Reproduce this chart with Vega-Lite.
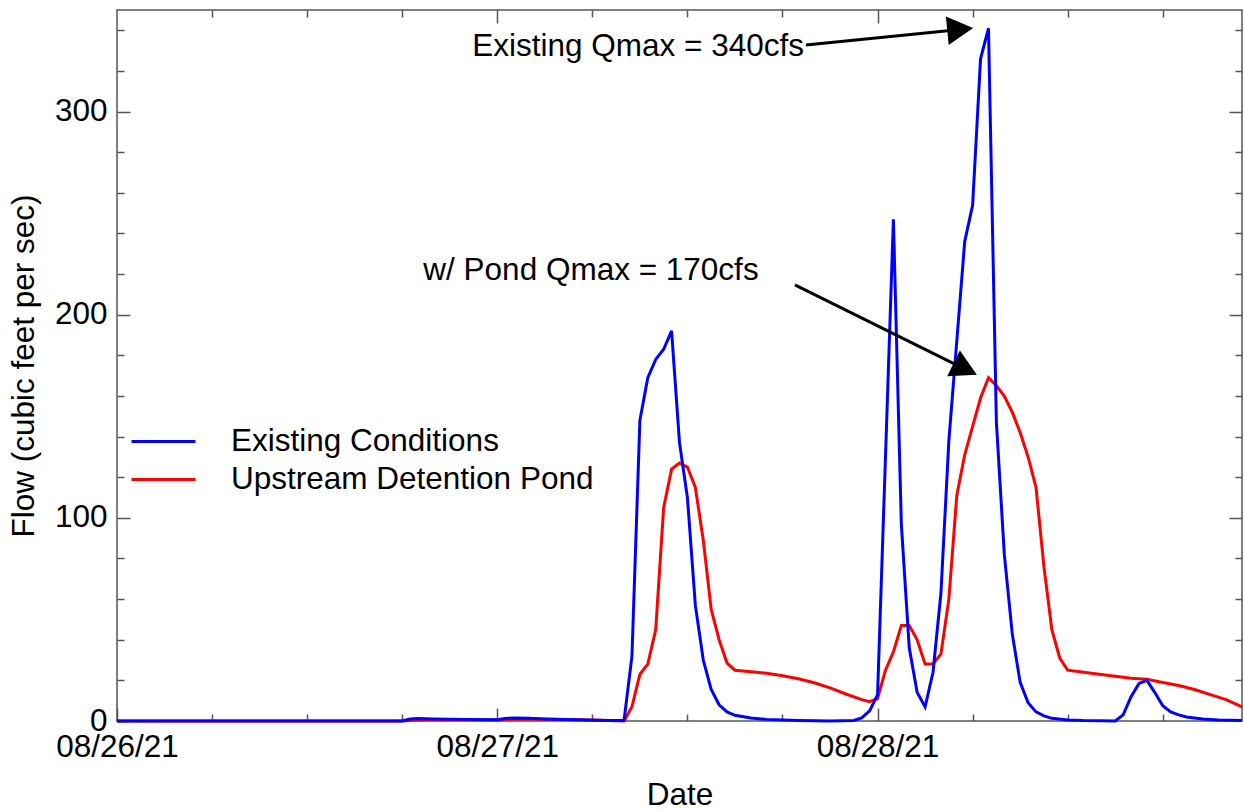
{
  "$schema": "https://vega.github.io/schema/vega-lite/v6.json",
  "width": 1125,
  "height": 711,
  "autosize": {"type": "none"},
  "padding": {"left": 117, "top": 10, "right": 2, "bottom": 90},
  "background": "#ffffff",
  "config": {
    "font": "Liberation Sans",
    "view": {"stroke": "#555555", "strokeWidth": 1.5},
    "axis": {
      "domain": false, "grid": false, "labelFlush": false,
      "tickColor": "#555555", "tickWidth": 1.5,
      "labelFont": "Liberation Sans", "labelFontSize": 31.5, "labelColor": "#000000",
      "titleFont": "Liberation Sans", "titleFontSize": 31.5, "titleFontWeight": "normal", "titleColor": "#000000"
    }
  },
  "datasets": {
    "flow": [
      {"t": "2021-08-26T00:00", "series": "Upstream Detention Pond", "v": 0},
      {"t": "2021-08-26T18:00", "series": "Upstream Detention Pond", "v": 0},
      {"t": "2021-08-26T19:00", "series": "Upstream Detention Pond", "v": 0.5},
      {"t": "2021-08-26T20:00", "series": "Upstream Detention Pond", "v": 0.7},
      {"t": "2021-08-27T00:00", "series": "Upstream Detention Pond", "v": 0.5},
      {"t": "2021-08-27T01:00", "series": "Upstream Detention Pond", "v": 0.8},
      {"t": "2021-08-27T02:00", "series": "Upstream Detention Pond", "v": 1.0},
      {"t": "2021-08-27T03:00", "series": "Upstream Detention Pond", "v": 0.9},
      {"t": "2021-08-27T05:00", "series": "Upstream Detention Pond", "v": 0.6},
      {"t": "2021-08-27T07:00", "series": "Upstream Detention Pond", "v": 0.3},
      {"t": "2021-08-27T08:00", "series": "Upstream Detention Pond", "v": 0},
      {"t": "2021-08-27T08:30", "series": "Upstream Detention Pond", "v": 7},
      {"t": "2021-08-27T09:00", "series": "Upstream Detention Pond", "v": 23},
      {"t": "2021-08-27T09:30", "series": "Upstream Detention Pond", "v": 28},
      {"t": "2021-08-27T10:00", "series": "Upstream Detention Pond", "v": 45},
      {"t": "2021-08-27T10:30", "series": "Upstream Detention Pond", "v": 105},
      {"t": "2021-08-27T11:00", "series": "Upstream Detention Pond", "v": 124},
      {"t": "2021-08-27T11:30", "series": "Upstream Detention Pond", "v": 127},
      {"t": "2021-08-27T12:00", "series": "Upstream Detention Pond", "v": 125},
      {"t": "2021-08-27T12:30", "series": "Upstream Detention Pond", "v": 115},
      {"t": "2021-08-27T13:00", "series": "Upstream Detention Pond", "v": 89},
      {"t": "2021-08-27T13:30", "series": "Upstream Detention Pond", "v": 55},
      {"t": "2021-08-27T14:00", "series": "Upstream Detention Pond", "v": 40},
      {"t": "2021-08-27T14:30", "series": "Upstream Detention Pond", "v": 28.5},
      {"t": "2021-08-27T15:00", "series": "Upstream Detention Pond", "v": 25},
      {"t": "2021-08-27T16:00", "series": "Upstream Detention Pond", "v": 24.3},
      {"t": "2021-08-27T17:00", "series": "Upstream Detention Pond", "v": 23.5},
      {"t": "2021-08-27T18:00", "series": "Upstream Detention Pond", "v": 22.3},
      {"t": "2021-08-27T19:00", "series": "Upstream Detention Pond", "v": 20.8},
      {"t": "2021-08-27T20:00", "series": "Upstream Detention Pond", "v": 18.8},
      {"t": "2021-08-27T21:00", "series": "Upstream Detention Pond", "v": 16.3},
      {"t": "2021-08-27T22:00", "series": "Upstream Detention Pond", "v": 13.3},
      {"t": "2021-08-27T23:00", "series": "Upstream Detention Pond", "v": 10.5},
      {"t": "2021-08-27T23:30", "series": "Upstream Detention Pond", "v": 9.5},
      {"t": "2021-08-28T00:00", "series": "Upstream Detention Pond", "v": 11},
      {"t": "2021-08-28T00:30", "series": "Upstream Detention Pond", "v": 25},
      {"t": "2021-08-28T01:00", "series": "Upstream Detention Pond", "v": 34},
      {"t": "2021-08-28T01:30", "series": "Upstream Detention Pond", "v": 47},
      {"t": "2021-08-28T02:00", "series": "Upstream Detention Pond", "v": 47},
      {"t": "2021-08-28T02:30", "series": "Upstream Detention Pond", "v": 40},
      {"t": "2021-08-28T03:00", "series": "Upstream Detention Pond", "v": 28},
      {"t": "2021-08-28T03:30", "series": "Upstream Detention Pond", "v": 28},
      {"t": "2021-08-28T04:00", "series": "Upstream Detention Pond", "v": 33},
      {"t": "2021-08-28T04:30", "series": "Upstream Detention Pond", "v": 60},
      {"t": "2021-08-28T05:00", "series": "Upstream Detention Pond", "v": 111},
      {"t": "2021-08-28T05:30", "series": "Upstream Detention Pond", "v": 131},
      {"t": "2021-08-28T06:00", "series": "Upstream Detention Pond", "v": 145},
      {"t": "2021-08-28T06:30", "series": "Upstream Detention Pond", "v": 159},
      {"t": "2021-08-28T07:00", "series": "Upstream Detention Pond", "v": 169},
      {"t": "2021-08-28T07:30", "series": "Upstream Detention Pond", "v": 165},
      {"t": "2021-08-28T08:00", "series": "Upstream Detention Pond", "v": 160},
      {"t": "2021-08-28T08:30", "series": "Upstream Detention Pond", "v": 152},
      {"t": "2021-08-28T09:00", "series": "Upstream Detention Pond", "v": 142},
      {"t": "2021-08-28T09:30", "series": "Upstream Detention Pond", "v": 130},
      {"t": "2021-08-28T10:00", "series": "Upstream Detention Pond", "v": 115},
      {"t": "2021-08-28T10:30", "series": "Upstream Detention Pond", "v": 76},
      {"t": "2021-08-28T11:00", "series": "Upstream Detention Pond", "v": 45},
      {"t": "2021-08-28T11:30", "series": "Upstream Detention Pond", "v": 31},
      {"t": "2021-08-28T12:00", "series": "Upstream Detention Pond", "v": 25},
      {"t": "2021-08-28T13:00", "series": "Upstream Detention Pond", "v": 24},
      {"t": "2021-08-28T14:00", "series": "Upstream Detention Pond", "v": 23},
      {"t": "2021-08-28T15:00", "series": "Upstream Detention Pond", "v": 22},
      {"t": "2021-08-28T16:00", "series": "Upstream Detention Pond", "v": 21},
      {"t": "2021-08-28T17:00", "series": "Upstream Detention Pond", "v": 20.5},
      {"t": "2021-08-28T18:00", "series": "Upstream Detention Pond", "v": 19},
      {"t": "2021-08-28T19:00", "series": "Upstream Detention Pond", "v": 17.5},
      {"t": "2021-08-28T20:00", "series": "Upstream Detention Pond", "v": 15.5},
      {"t": "2021-08-28T21:00", "series": "Upstream Detention Pond", "v": 13},
      {"t": "2021-08-28T22:00", "series": "Upstream Detention Pond", "v": 10.5},
      {"t": "2021-08-28T23:00", "series": "Upstream Detention Pond", "v": 7},
      {"t": "2021-08-26T00:00", "series": "Existing Conditions", "v": 0},
      {"t": "2021-08-26T18:00", "series": "Existing Conditions", "v": 0},
      {"t": "2021-08-26T18:30", "series": "Existing Conditions", "v": 1.0},
      {"t": "2021-08-26T19:00", "series": "Existing Conditions", "v": 1.2},
      {"t": "2021-08-26T20:00", "series": "Existing Conditions", "v": 1.0},
      {"t": "2021-08-26T22:00", "series": "Existing Conditions", "v": 0.8},
      {"t": "2021-08-27T00:00", "series": "Existing Conditions", "v": 0.6},
      {"t": "2021-08-27T00:30", "series": "Existing Conditions", "v": 1.2},
      {"t": "2021-08-27T01:00", "series": "Existing Conditions", "v": 1.5},
      {"t": "2021-08-27T02:00", "series": "Existing Conditions", "v": 1.3},
      {"t": "2021-08-27T03:00", "series": "Existing Conditions", "v": 1.0},
      {"t": "2021-08-27T05:00", "series": "Existing Conditions", "v": 0.6},
      {"t": "2021-08-27T07:00", "series": "Existing Conditions", "v": 0.3},
      {"t": "2021-08-27T08:00", "series": "Existing Conditions", "v": 0.3},
      {"t": "2021-08-27T08:30", "series": "Existing Conditions", "v": 32},
      {"t": "2021-08-27T09:00", "series": "Existing Conditions", "v": 148},
      {"t": "2021-08-27T09:30", "series": "Existing Conditions", "v": 169},
      {"t": "2021-08-27T10:00", "series": "Existing Conditions", "v": 178},
      {"t": "2021-08-27T10:30", "series": "Existing Conditions", "v": 183},
      {"t": "2021-08-27T11:00", "series": "Existing Conditions", "v": 192},
      {"t": "2021-08-27T11:30", "series": "Existing Conditions", "v": 137},
      {"t": "2021-08-27T12:00", "series": "Existing Conditions", "v": 110},
      {"t": "2021-08-27T12:30", "series": "Existing Conditions", "v": 57},
      {"t": "2021-08-27T13:00", "series": "Existing Conditions", "v": 30},
      {"t": "2021-08-27T13:30", "series": "Existing Conditions", "v": 15.5},
      {"t": "2021-08-27T14:00", "series": "Existing Conditions", "v": 8},
      {"t": "2021-08-27T14:30", "series": "Existing Conditions", "v": 4.5},
      {"t": "2021-08-27T15:00", "series": "Existing Conditions", "v": 2.8},
      {"t": "2021-08-27T16:00", "series": "Existing Conditions", "v": 1.5},
      {"t": "2021-08-27T17:00", "series": "Existing Conditions", "v": 0.8},
      {"t": "2021-08-27T19:00", "series": "Existing Conditions", "v": 0.3},
      {"t": "2021-08-27T21:00", "series": "Existing Conditions", "v": 0},
      {"t": "2021-08-27T22:30", "series": "Existing Conditions", "v": 0.3},
      {"t": "2021-08-27T23:00", "series": "Existing Conditions", "v": 1.5},
      {"t": "2021-08-27T23:30", "series": "Existing Conditions", "v": 5},
      {"t": "2021-08-28T00:00", "series": "Existing Conditions", "v": 13},
      {"t": "2021-08-28T01:00", "series": "Existing Conditions", "v": 247},
      {"t": "2021-08-28T01:30", "series": "Existing Conditions", "v": 97},
      {"t": "2021-08-28T02:00", "series": "Existing Conditions", "v": 36},
      {"t": "2021-08-28T02:30", "series": "Existing Conditions", "v": 14},
      {"t": "2021-08-28T03:00", "series": "Existing Conditions", "v": 7},
      {"t": "2021-08-28T03:30", "series": "Existing Conditions", "v": 24},
      {"t": "2021-08-28T04:00", "series": "Existing Conditions", "v": 63},
      {"t": "2021-08-28T04:30", "series": "Existing Conditions", "v": 138},
      {"t": "2021-08-28T05:00", "series": "Existing Conditions", "v": 187},
      {"t": "2021-08-28T05:30", "series": "Existing Conditions", "v": 236},
      {"t": "2021-08-28T06:00", "series": "Existing Conditions", "v": 254},
      {"t": "2021-08-28T06:30", "series": "Existing Conditions", "v": 326},
      {"t": "2021-08-28T07:00", "series": "Existing Conditions", "v": 341},
      {"t": "2021-08-28T07:30", "series": "Existing Conditions", "v": 147},
      {"t": "2021-08-28T08:00", "series": "Existing Conditions", "v": 82},
      {"t": "2021-08-28T08:30", "series": "Existing Conditions", "v": 43},
      {"t": "2021-08-28T09:00", "series": "Existing Conditions", "v": 19},
      {"t": "2021-08-28T09:30", "series": "Existing Conditions", "v": 9},
      {"t": "2021-08-28T10:00", "series": "Existing Conditions", "v": 4.5},
      {"t": "2021-08-28T10:30", "series": "Existing Conditions", "v": 2.5},
      {"t": "2021-08-28T11:00", "series": "Existing Conditions", "v": 1.3},
      {"t": "2021-08-28T12:00", "series": "Existing Conditions", "v": 0.5},
      {"t": "2021-08-28T13:00", "series": "Existing Conditions", "v": 0.2},
      {"t": "2021-08-28T15:00", "series": "Existing Conditions", "v": 0},
      {"t": "2021-08-28T15:30", "series": "Existing Conditions", "v": 3},
      {"t": "2021-08-28T16:00", "series": "Existing Conditions", "v": 12},
      {"t": "2021-08-28T16:30", "series": "Existing Conditions", "v": 18.5},
      {"t": "2021-08-28T17:00", "series": "Existing Conditions", "v": 20},
      {"t": "2021-08-28T17:30", "series": "Existing Conditions", "v": 14},
      {"t": "2021-08-28T18:00", "series": "Existing Conditions", "v": 7.5},
      {"t": "2021-08-28T18:30", "series": "Existing Conditions", "v": 4.5},
      {"t": "2021-08-28T19:00", "series": "Existing Conditions", "v": 3},
      {"t": "2021-08-28T19:30", "series": "Existing Conditions", "v": 2},
      {"t": "2021-08-28T20:30", "series": "Existing Conditions", "v": 1},
      {"t": "2021-08-28T21:30", "series": "Existing Conditions", "v": 0.5},
      {"t": "2021-08-28T23:00", "series": "Existing Conditions", "v": 0.2}
    ],
    "arrows": [
      {"label": "existing", "t1": "2021-08-27T19:29", "v1": 332.8, "t2": "2021-08-28T05:32", "v2": 340.7, "tt": "2021-08-28T06:02", "vt": 341.1},
      {"label": "pond", "t1": "2021-08-27T18:47", "v1": 214.7, "t2": "2021-08-28T05:48", "v2": 172.1, "tt": "2021-08-28T06:16", "vt": 170.4}
    ],
    "notes": [
      {"t": "2021-08-26T22:25", "v": 332, "text": "Existing Qmax = 340cfs"},
      {"t": "2021-08-26T19:20", "v": 221.7, "text": "w/ Pond Qmax = 170cfs"}
    ]
  },
  "layer": [
    {
      "data": {"name": "flow"},
      "mark": {"type": "line", "strokeWidth": 3},
      "encoding": {
        "x": {
          "field": "t", "type": "temporal",
          "scale": {"domain": [{"year": 2021, "month": 8, "date": 26, "hours": 0}, {"year": 2021, "month": 8, "date": 28, "hours": 23}], "nice": false},
          "axis": {
            "orient": "bottom",
            "values": [{"year": 2021, "month": 8, "date": 26}, {"year": 2021, "month": 8, "date": 27}, {"year": 2021, "month": 8, "date": 28}],
            "format": "%m/%d/%y", "tickSize": -13, "labelPadding": 23,
            "title": "Date", "titlePadding": 17
          }
        },
        "y": {
          "field": "v", "type": "quantitative",
          "scale": {"domain": [0, 350], "nice": false},
          "axis": {
            "orient": "left", "values": [0, 100, 200, 300], "tickSize": -13, "labelPadding": 23,
            "title": "Flow (cubic feet per sec)", "titlePadding": 14
          }
        },
        "color": {
          "field": "series", "type": "nominal",
          "scale": {"domain": ["Existing Conditions", "Upstream Detention Pond"], "range": ["#0000ff", "#ff0000"]},
          "legend": {
            "orient": "none", "legendX": 29, "legendY": 414, "title": null,
            "symbolType": "M-2,0L2,0", "symbolSize": 1024, "symbolStrokeWidth": 3,
            "labelFont": "Liberation Sans", "labelFontSize": 31.5, "labelColor": "#000000", "labelLimit": 0,
            "labelOffset": 50, "rowPadding": 5
          }
        }
      }
    },
    {
      "data": {"name": "flow"},
      "mark": {"type": "line", "opacity": 0},
      "encoding": {
        "x": {
          "field": "t", "type": "temporal",
          "axis": {
            "orient": "bottom", "labels": false, "title": null, "tickSize": -7,
            "values": [
              {"year": 2021, "month": 8, "date": 26, "hours": 6}, {"year": 2021, "month": 8, "date": 26, "hours": 12}, {"year": 2021, "month": 8, "date": 26, "hours": 18},
              {"year": 2021, "month": 8, "date": 27, "hours": 6}, {"year": 2021, "month": 8, "date": 27, "hours": 12}, {"year": 2021, "month": 8, "date": 27, "hours": 18},
              {"year": 2021, "month": 8, "date": 28, "hours": 6}, {"year": 2021, "month": 8, "date": 28, "hours": 12}, {"year": 2021, "month": 8, "date": 28, "hours": 18}
            ]
          }
        },
        "y": {
          "field": "v", "type": "quantitative",
          "axis": {"orient": "left", "labels": false, "title": null, "tickSize": -7,
            "values": [20, 40, 60, 80, 120, 140, 160, 180, 220, 240, 260, 280, 320, 340]}
        }
      }
    },
    {
      "data": {"name": "flow"},
      "mark": {"type": "line", "opacity": 0},
      "encoding": {
        "x": {
          "field": "t", "type": "temporal",
          "axis": {"orient": "top", "labels": false, "title": null, "tickSize": -13,
            "values": [{"year": 2021, "month": 8, "date": 27}, {"year": 2021, "month": 8, "date": 28}]}
        },
        "y": {
          "field": "v", "type": "quantitative",
          "axis": {"orient": "right", "labels": false, "title": null, "tickSize": -13, "values": [100, 200, 300]}
        }
      }
    },
    {
      "data": {"name": "flow"},
      "mark": {"type": "line", "opacity": 0},
      "encoding": {
        "x": {
          "field": "t", "type": "temporal",
          "axis": {
            "orient": "top", "labels": false, "title": null, "tickSize": -7,
            "values": [
              {"year": 2021, "month": 8, "date": 26, "hours": 6}, {"year": 2021, "month": 8, "date": 26, "hours": 12}, {"year": 2021, "month": 8, "date": 26, "hours": 18},
              {"year": 2021, "month": 8, "date": 27, "hours": 6}, {"year": 2021, "month": 8, "date": 27, "hours": 12}, {"year": 2021, "month": 8, "date": 27, "hours": 18},
              {"year": 2021, "month": 8, "date": 28, "hours": 6}, {"year": 2021, "month": 8, "date": 28, "hours": 12}, {"year": 2021, "month": 8, "date": 28, "hours": 18}
            ]
          }
        },
        "y": {
          "field": "v", "type": "quantitative",
          "axis": {"orient": "right", "labels": false, "title": null, "tickSize": -7,
            "values": [20, 40, 60, 80, 120, 140, 160, 180, 220, 240, 260, 280, 320, 340]}
        }
      }
    },
    {
      "data": {"name": "arrows"},
      "mark": {"type": "rule", "color": "#000000", "strokeWidth": 3},
      "encoding": {
        "x": {"field": "t1", "type": "temporal", "axis": null},
        "y": {"field": "v1", "type": "quantitative", "axis": null},
        "x2": {"field": "t2"},
        "y2": {"field": "v2"}
      }
    },
    {
      "data": {"name": "arrows"},
      "transform": [{"filter": "datum.label == 'existing'"}],
      "mark": {"type": "point", "shape": "M0,0L-2,-1.1L-2,1.1Z", "filled": true, "color": "#000000", "opacity": 1, "size": 676, "angle": 354.3, "strokeWidth": 0},
      "encoding": {
        "x": {"field": "tt", "type": "temporal", "axis": null},
        "y": {"field": "vt", "type": "quantitative", "axis": null}
      }
    },
    {
      "data": {"name": "arrows"},
      "transform": [{"filter": "datum.label == 'pond'"}],
      "mark": {"type": "point", "shape": "M0,0L-2,-1.1L-2,1.1Z", "filled": true, "color": "#000000", "opacity": 1, "size": 676, "angle": 26.3, "strokeWidth": 0},
      "encoding": {
        "x": {"field": "tt", "type": "temporal", "axis": null},
        "y": {"field": "vt", "type": "quantitative", "axis": null}
      }
    },
    {
      "data": {"name": "notes"},
      "mark": {"type": "text", "align": "left", "baseline": "middle", "font": "Liberation Sans", "fontSize": 31.5, "color": "#000000"},
      "encoding": {
        "x": {"field": "t", "type": "temporal", "axis": null},
        "y": {"field": "v", "type": "quantitative", "axis": null},
        "text": {"field": "text"}
      }
    }
  ],
  "resolve": {"axis": {"x": "independent", "y": "independent"}}
}
